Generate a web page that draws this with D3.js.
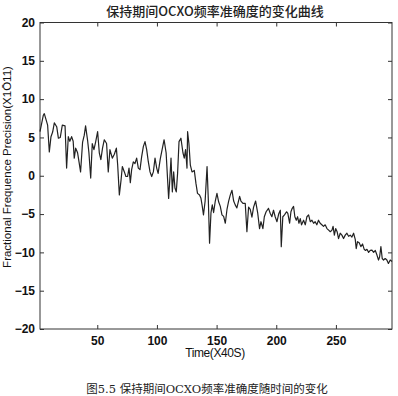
<!DOCTYPE html>
<html>
<head>
<meta charset="utf-8">
<script src="https://cdn.jsdelivr.net/npm/d3@7"></script>
<style>
  body { margin: 0; background: #fff; }
</style>
</head>
<body>
<div id="chart"></div>
<script>
var timeValues = [
  2, 4.8, 5.6, 8.4, 9.8, 11.2, 12.6, 14, 16, 17.4, 19, 20.7, 23, 24.3, 25.7, 27, 28.5, 29.8, 30.7, 31.9,
  33.5, 34.7, 36, 37.7, 39.1, 40.2, 41.9, 43, 44.5, 45.8, 47.2, 48.6, 50.3, 51.7, 53, 54.4, 55.9, 57.8, 59.2, 60.6,
  62.6, 64.3, 66, 67.1, 68.5, 69.9, 71, 72.7, 74, 75.4, 76.6, 77.7, 78.8, 80.2, 81.6, 83, 84.4, 85.8, 87.2, 88.6,
  90, 91.4, 92.8, 94.2, 95.6, 97, 98.4, 99.8, 101, 102.8, 106, 107.7, 109.8, 110.6, 111.8, 112.9, 114, 115.1, 116.2, 117.3,
  118.5, 120.1, 121.8, 122.9, 124, 125.2, 125.7, 126.8, 128, 129.4, 131.3, 132.7, 134, 135.7, 136.9, 138, 139, 140.4, 142, 143.1,
  144.1, 145.3, 146.4, 147.5, 148.9, 150.3, 151.7, 153.1, 154.5, 155.9, 157.3, 158.7, 160.1, 161.5, 162.9, 164.3, 165.6, 167, 168.2, 169.3,
  170.4, 172.1, 174, 175.4, 176.8, 178.2, 179.6, 181, 182.7, 184.4, 186, 187.2, 188.8, 190, 191.5, 193.5, 194.9, 196.3, 197.7, 199.1,
  200.6, 202, 203.4, 204.2, 205.5, 206.9, 208.6, 209.7, 211.2, 212.3, 213.4, 214.5, 215.6, 216.8, 217.9, 219, 220.1, 221.2, 222.9, 224.3,
  225.7, 227.1, 228.5, 229.9, 231.3, 232.6, 234, 235.4, 236.8, 238.2, 239.6, 241, 242.5, 243.9, 245.3, 246.7, 247.6, 248.7, 249.8, 251,
  252.2, 253.6, 255, 256.4, 257.8, 259.2, 260.6, 262, 263.4, 264.8, 266.2, 267, 268.1, 269.5, 270.9, 272.3, 273.7, 274.8, 276, 277.4,
  278.8, 280.2, 281.6, 283, 284.4, 285.7, 286.6, 287.7, 288.8, 289.9, 291.3, 292.7, 294, 295.5, 297
];
var precisionValues = [
  5.75, 7.9, 8.1, 6.6, 3.1, 5.1, 5.7, 6.9, 6.4, 4.9, 5.0, 6.6, 6.5, 1.0, 5.1, 4.5, 5.1, 4.5, 2.3, 3.6,
  3.0, 1.8, 0.5, 4.4, 5.3, 6.5, 4.6, 3.0, -0.3, 4.2, 3.4, 4.4, 5.75, 3.0, 2.1, 3.6, 4.7, 4.2, 0.5, 3.4,
  2.3, 2.8, 3.6, 1.4, -2.5, -0.6, 1.2, 0.5, -0.1, -0.1, 1.0, -0.9, 0.8, 1.8, 1.6, 2.3, 1.0, 0.8, 2.5, 3.8,
  4.45, 3.4, 1.8, 0.5, -0.1, 0.5, 2.3, 1.0, 0.3, 2.2, 4.7, 3.0, -2.95, -1.0, 2.3, -2.1, 0.5, -1.6, -2.1, 0.3,
  4.45, 4.9, 3.0, 2.3, 3.4, 1.0, 5.75, 4.2, 1.4, 0.5, 0.7, -1.0, -2.3, -2.5, -2.95, -4.0, -5.1, -3.3, 1.2, -3.3,
  -8.8, -4.8, -3.8, -4.8, -3.3, -2.3, -3.4, -4.0, -5.1, -5.3, -6.2, -4.4, -3.3, -2.5, -1.9, -3.3, -3.8, -4.2, -3.4, -2.7,
  -3.3, -3.6, -3.6, -7.3, -4.1, -4.4, -5.4, -4.1, -3.3, -4.8, -6.9, -6.0, -6.9, -5.35, -4.7, -4.25, -4.9, -5.35, -4.5, -5.35,
  -6.0, -5.0, -4.5, -9.25, -5.35, -5.1, -4.7, -4.9, -6.2, -4.7, -4.25, -4.0, -5.35, -5.8, -5.35, -6.2, -5.6, -6.4, -5.8, -6.4,
  -5.35, -5.1, -6.0, -5.8, -6.2, -6.0, -6.4, -5.8, -6.2, -6.4, -6.6, -6.4, -6.9, -7.1, -7.3, -7.1, -6.6, -7.75, -6.9, -7.3,
  -8.2, -7.5, -7.75, -8.2, -7.75, -7.5, -7.9, -7.75, -8.0, -7.5, -8.3, -9.5, -8.6, -8.75, -9.25, -8.9, -9.6, -9.75, -9.6, -10.0,
  -9.75, -9.7, -10.0, -9.75, -10.35, -11.0, -10.6, -9.25, -10.8, -11.0, -10.8, -11.0, -11.45, -11.0, -11.2
];
var xTicks = [50, 100, 150, 200, 250];
var yTicks = [-20, -15, -10, -5, 0, 5, 10, 15, 20];
var chartTitle = "保持期间OCXO频率准确度的变化曲线";
var xLabel = "Time(X40S)";
var yLabel = "Fractional Frequence Precision(X1\u014C11)";
var caption = "图5.5  保持期间OCXO频率准确度随时间的变化";

var dim = {
    'width': 398,
    'height': 396
}
var box = { left: 40, right: 392, top: 22.5, bottom: 329 };

var svg = d3.select("#chart").append('svg')
    .attr('width', dim.width)
    .attr('height', dim.height)
    .style('font-family', '"Liberation Sans", Arial, sans-serif');

var data = timeValues.map((t, i) => ({ t: t, v: precisionValues[i] }));

var x = d3.scaleLinear()
    .domain([2, 297])
    .range([box.left, box.right]);

var y = d3.scaleLinear()
    .domain([-20, 20])
    .range([box.bottom, box.top]);

// frame
svg.append('rect')
    .attr('x', box.left)
    .attr('y', box.top)
    .attr('width', box.right - box.left)
    .attr('height', box.bottom - box.top)
    .attr('fill', 'none')
    .attr('stroke', '#333')
    .attr('stroke-width', 1);

function styleAxis(g) {
    g.select('.domain').remove();
    g.selectAll('.tick line').attr('stroke', '#333');
    g.selectAll('.tick text')
        .attr('fill', '#111')
        .style('font-size', '12px')
        .style('font-weight', 'bold');
}

svg.append('g')
    .attr('transform', `translate(0,${box.bottom})`)
    .call(d3.axisBottom(x).tickValues(xTicks).tickSizeInner(-4).tickSizeOuter(0).tickPadding(7))
    .call(styleAxis);

svg.append('g')
    .attr('transform', `translate(0,${box.top})`)
    .call(d3.axisTop(x).tickValues(xTicks).tickSizeInner(-4).tickSizeOuter(0).tickFormat(''))
    .call(styleAxis);

svg.append('g')
    .attr('transform', `translate(${box.left},0)`)
    .call(d3.axisLeft(y).tickValues(yTicks).tickSizeInner(-4).tickSizeOuter(0).tickPadding(5))
    .call(styleAxis);

svg.append('g')
    .attr('transform', `translate(${box.right},0)`)
    .call(d3.axisRight(y).tickValues(yTicks).tickSizeInner(-4).tickSizeOuter(0).tickFormat(''))
    .call(styleAxis);

var line = d3.line()
    .x(d => x(d.t))
    .y(d => y(d.v));

svg.append('path')
    .datum(data)
    .attr('d', line)
    .attr('fill', 'none')
    .attr('stroke', '#222')
    .attr('stroke-width', 1.2)
    .attr('stroke-linejoin', 'round');

svg.append('text')
    .attr('x', 215)
    .attr('y', 16)
    .attr('text-anchor', 'middle')
    .style('font-family', '"Noto Sans CJK SC", sans-serif')
    .style('font-size', '13px')
    .style('font-weight', '500')
    .attr('fill', '#222')
    .text(chartTitle);

svg.append('text')
    .attr('x', 215)
    .attr('y', 357)
    .attr('text-anchor', 'middle')
    .style('font-size', '12px')
    .style('letter-spacing', '-0.4px')
    .attr('fill', '#111')
    .text(xLabel);

svg.append('text')
    .attr('transform', 'translate(11,167) rotate(-90)')
    .attr('text-anchor', 'middle')
    .style('font-size', '11.5px')
    .attr('fill', '#111')
    .text(yLabel);

svg.append('text')
    .attr('x', 207)
    .attr('y', 393)
    .attr('text-anchor', 'middle')
    .style('font-family', '"DejaVu Serif", "Noto Sans CJK SC", serif')
    .style('font-size', '11.5px')
    .attr('fill', '#222')
    .text(caption);
</script>
</body>
</html>
